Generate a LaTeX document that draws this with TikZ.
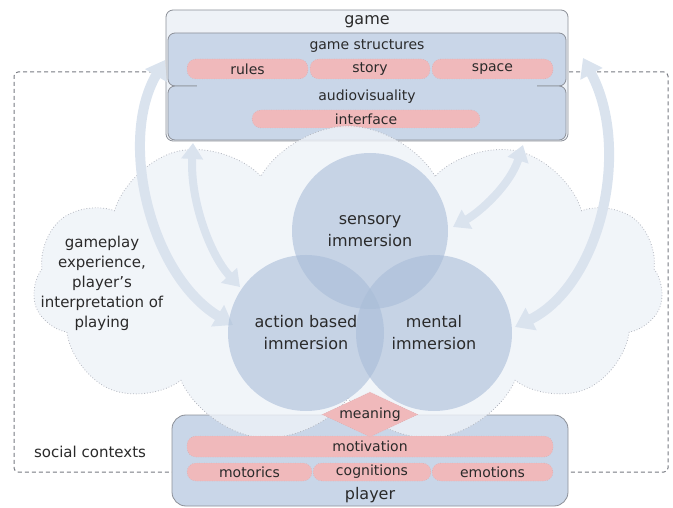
\documentclass[tikz,border=0pt]{standalone}
\usepackage{fontspec}
\setmainfont{DejaVu Sans}
\usetikzlibrary{arrows.meta,shapes.geometric,shapes.symbols}

\definecolor{framegray}{HTML}{8C9098}
\definecolor{gamebg}{HTML}{EEF2F7}
\definecolor{boxblue}{HTML}{C9D6E8}
\definecolor{pillpink}{HTML}{F0B9BB}
\definecolor{pillline}{HTML}{C8A2A6}
\definecolor{cloudbg}{HTML}{EEF2F8}
\definecolor{cloudline}{HTML}{B4B8C0}
\definecolor{immblue}{HTML}{A9BDD8}
\definecolor{flowblue}{HTML}{DAE3EE}
\definecolor{ink}{HTML}{2A2A2A}

\begin{document}
\begin{tikzpicture}[x=1pt,y=-1pt,text=ink,
  lbl/.style={font=\fontsize{14}{17}\selectfont},
  title/.style={font=\fontsize{16}{19}\selectfont},
  flow/.style={draw=flowblue,line width=10pt,
    {Triangle[width=24pt,length=18pt]}-{Triangle[width=24pt,length=18pt]}},
  smallflow/.style={flow,line width=8pt,
    {Triangle[width=21pt,length=16pt]}-{Triangle[width=21pt,length=16pt]}}]

  \tikzstyle{bluebox}=[rectangle,rounded corners=7pt,fill=boxblue,draw=framegray,line width=0.8pt,inner sep=0pt]
  \tikzstyle{pill}=[rectangle,rounded corners=9pt,fill=pillpink,draw=pillline,dotted,inner sep=0pt,lbl]
  \tikzstyle{immersion}=[circle,minimum size=156pt,fill=immblue,fill opacity=0.6,text opacity=1,
    align=center,inner sep=0pt,font=\fontsize{16}{22}\selectfont]

  \useasboundingbox (0,0) rectangle (673,508);

  % social contexts frame
  \node[rectangle,rounded corners=4pt,draw=framegray!85!black,dash pattern=on 4pt off 3pt,line width=1pt,
        minimum width=654pt,minimum height=400pt] (social) at (341,272) {};
  \node[font=\fontsize{15}{18}\selectfont] (sociallbl) at (90,452) {social contexts};

  % game
  \node[bluebox,fill=gamebg,minimum width=402pt,minimum height=131pt] (game) at (367,75.5) {};
  \node[bluebox,minimum width=398pt,minimum height=53pt] (structures) at (367,59.5) {};
  \node[bluebox,minimum width=398pt,minimum height=54pt] (audio) at (367,113) {};
  \fill[boxblue] (197,84.4) rectangle (537,87.6);
  \node[title] (gamelbl) at (367,22) {game};
  \node[lbl] (structlbl) at (367,46) {game structures};
  \node[pill,minimum width=121pt,minimum height=20pt] (rules) at (247.5,69) {rules};
  \node[pill,minimum width=120pt,minimum height=20pt] (story) at (370,69) {story};
  \node[pill,minimum width=121pt,minimum height=20pt] (space) at (492.5,69) {space};
  \node[lbl] (audiolbl) at (367,97) {audiovisuality};
  \node[pill,minimum width=228pt,minimum height=18pt] (interface) at (366,119) {interface};

  % player
  \node[bluebox,rounded corners=14pt,minimum width=396pt,minimum height=91pt] (player) at (370,460.5) {};

  % gameplay experience
  \node[cloud,cloud puffs=11,cloud puff arc=120,cloud ignores aspect,
        minimum width=630pt,minimum height=318pt,fill=cloudbg,fill opacity=0.8,
        draw=cloudline,dotted,line width=0.8pt] (experience) at (348,285) {};
  \node[align=center,font=\fontsize{15}{20}\selectfont] (explbl) at (102,283)
    {gameplay\\experience,\\player’s\\interpretation of\\playing};

  \node[pill,minimum width=366pt,minimum height=21pt] (motivation) at (370,446.5) {motivation};
  \node[pill,minimum width=125pt,minimum height=18pt] (motorics) at (249.5,472) {motorics};
  \node[pill,minimum width=118pt,minimum height=18pt] (cognitions) at (372,472) {cognitions};
  \node[pill,minimum width=121pt,minimum height=18pt] (emotions) at (492.5,472) {emotions};
  \node[title] (playerlbl) at (370,495) {player};

  % flows between game and immersion
  \coordinate (gameleft) at (165,60);
  \coordinate (gameright) at (583,58);
  \coordinate (gamelow) at (193,143);
  \coordinate (gamelowr) at (523,145);
  \coordinate (actionin) at (233,325);
  \coordinate (actiontop) at (240,287);
  \coordinate (mentalin) at (515,327);
  \coordinate (sensoryin) at (453,227);
  \draw[flow] (gameleft) .. controls (118,140) and (150,275) .. (actionin);
  \draw[flow] (gameright) .. controls (632,150) and (600,285) .. (mentalin);
  \draw[smallflow] (gamelow) .. controls (190,200) and (210,255) .. (actiontop);
  \draw[smallflow] (gamelowr) .. controls (510,185) and (480,212) .. (sensoryin);

  % immersion
  \node[immersion] (sensory) at (370,231) {sensory\\immersion};
  \node[immersion] (action) at (306,333) {action based\\immersion};
  \node[immersion] (mental) at (434,333) {mental\\immersion};

  \node[diamond,aspect=2,minimum width=96pt,minimum height=45pt,inner sep=0pt,
        fill=pillpink,draw=pillline,dotted,lbl] (meaning) at (370,414.5) {meaning};
\end{tikzpicture}
\end{document}
